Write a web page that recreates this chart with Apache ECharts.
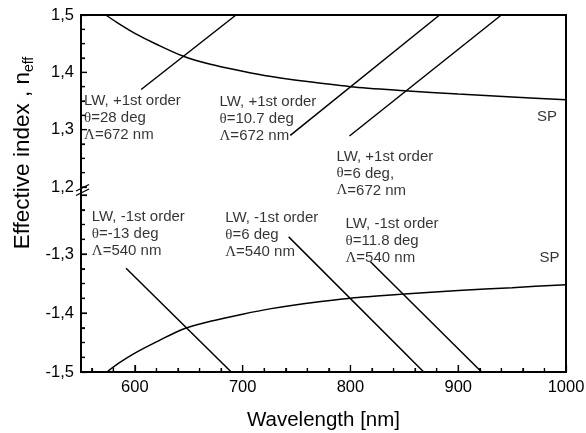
<!DOCTYPE html>
<html><head><meta charset="utf-8">
<script src="https://cdn.jsdelivr.net/npm/echarts@6/dist/echarts.min.js"></script>
<style>html,body{margin:0;padding:0;background:#fff}#c{width:586px;height:433px}</style>
</head><body><div id="c"></div>
<script>
// ---- data ----
const wavelengthSPTop = [573, 585, 600, 620, 645, 670, 700, 725, 750, 800, 850, 900, 950, 1000];
const neffSPTop = [1.500, 1.485, 1.468, 1.449, 1.428, 1.414, 1.402, 1.393, 1.386, 1.375, 1.368, 1.362, 1.357, 1.352];
const wavelengthSPBottom = [574, 585, 600, 620, 645, 670, 700, 725, 750, 800, 850, 900, 950, 1000];
const neffSPBottom = [-1.500, -1.485, -1.468, -1.449, -1.427, -1.414, -1.402, -1.393, -1.386, -1.375, -1.368, -1.362, -1.357, -1.352];

// LW lines (start point, end point): [wavelength, neff]
const lwPlus28 = [[605.8, 1.370], [693.8, 1.500]];
const lwPlus10_7 = [[744.2, 1.290], [882.7, 1.500]];
const lwPlus6 = [[799.1, 1.289], [940.0, 1.500]];
const lwMinus13 = [[591.8, -1.324], [689.4, -1.500]];
const lwMinus6 = [[742.7, -1.271], [868.0, -1.500]];
const lwMinus11_8 = [[818.6, -1.313], [921.7, -1.500]];

// ticks and tick labels
const xRange = [550, 1000];
const xMajorTicks = [600, 700, 800, 900, 1000];
const xMinorTicks = [560, 580, 620, 640, 660, 680, 720, 740, 760, 780, 820, 840, 860, 880, 920, 940, 960, 980];
const yTopPanel = [1.2, 1.5];
const yTopMajorTicks = [1.2, 1.3, 1.4, 1.5];
const yTopMinorTicks = [1.225, 1.25, 1.275, 1.325, 1.35, 1.375, 1.425, 1.45, 1.475];
const yBottomPanel = [-1.5, -1.2];
const yBottomMajorTicks = [-1.5, -1.4, -1.3, -1.2];
const yBottomLabelTicks = [-1.5, -1.4, -1.3];
const yBottomMinorTicks = [-1.475, -1.45, -1.425, -1.375, -1.35, -1.325, -1.275, -1.25, -1.225];

// annotation texts
const annTop = [
  'LW, +1st order\n{g|θ}=28 deg\n{g|Λ}=672 nm',
  'LW, +1st order\n{g|θ}=10.7 deg\n{g|Λ}=672 nm',
  'LW, +1st order\n{g|θ}=6 deg,\n{g|Λ}=672 nm',
  'SP'
];
const annBottom = [
  'LW, -1st order\n{g|θ}=-13 deg\n{g|Λ}=540 nm',
  'LW, -1st order\n{g|θ}=6 deg\n{g|Λ}=540 nm',
  'LW, -1st order\n{g|θ}=11.8 deg\n{g|Λ}=540 nm',
  'SP'
];

// ---- chart ----
const FONT = "'Liberation Sans', Arial, sans-serif";
const SERIF = "'Liberation Serif', 'Times New Roman', serif";
const annAnchorsTop = [[552.8, 1.3209], [678.5, 1.3188], [787, 1.2237], [973, 1.3228]];
const annAnchorsBottom = [[560, -1.2666], [683.8, -1.2683], [795.4, -1.278], [975.5, -1.3063]];

const W = 586, H = 433;
const L = 81, R = 20, TOP = 15, BOT = 61;
const GRID_H = H - TOP - BOT;            // 357 px
const TOP_PANEL_H = 172, BOTTOM_PANEL_H = 177;   // broken axis: two panels in one frame
// axis extents so that each panel occupies its own part of the single grid
const yTopMin = yTopPanel[1] - (yTopPanel[1] - yTopPanel[0]) * GRID_H / TOP_PANEL_H;
const yBottomMax = yBottomPanel[0] + (yBottomPanel[1] - yBottomPanel[0]) * GRID_H / BOTTOM_PANEL_H;

const chart = echarts.init(document.getElementById('c'));
const tickStyle = {color: '#000', width: 1.2};
const fmtY = v => v.toFixed(1).replace('.', ',');
const fmtX = v => String(Math.round(v));

function lineSeries(data, yi, smooth) {
  return {type: 'line', xAxisIndex: 0, yAxisIndex: yi, data: data, symbol: 'none', smooth: smooth || false,
    silent: true, lineStyle: {color: '#000', width: 1.5}, z: 3};
}
const ANN_FS = 15;
const richStyle = {g: {fontFamily: SERIF, fontSize: ANN_FS, lineHeight: 17, color: '#000'}};
function annSeries(texts, anchors, yi) {
  return {type: 'scatter', xAxisIndex: 0, yAxisIndex: yi, symbolSize: 0, silent: true, z: 5,
    data: texts.map((t, i) => ({value: anchors[i], label: {formatter: t}})),
    label: {show: true, position: 'right', distance: 0, fontFamily: FONT, fontSize: ANN_FS, lineHeight: 17,
      color: '#000', align: 'left', verticalAlign: 'middle', rich: richStyle}};
}
// inside ticks drawn through the axis scales (backup of the axis ticks)
function xTickSeries(values, len) {
  return {type: 'custom', xAxisIndex: 0, yAxisIndex: 1, silent: true, clip: false, z: 40,
    data: values.map(v => [v, yBottomPanel[0]]),
    renderItem: (params, api) => {
      const p = api.coord([api.value(0), api.value(1)]);
      return {type: 'line', shape: {x1: p[0], y1: p[1], x2: p[0], y2: p[1] - len},
        style: {stroke: '#000', lineWidth: 1.2}};
    }};
}
function yTickSeries(values, yi, len) {
  return {type: 'custom', xAxisIndex: 0, yAxisIndex: yi, silent: true, clip: false, z: 40,
    data: values.map(v => [xRange[0], v]),
    renderItem: (params, api) => {
      const p = api.coord([api.value(0), api.value(1)]);
      return {type: 'line', shape: {x1: p[0], y1: p[1], x2: p[0] + len, y2: p[1]},
        style: {stroke: '#000', lineWidth: 1.2}};
    }};
}
function yAxisCfg(min, max, labelValues, tickValues, tickLen, showLabel) {
  return {type: 'value', gridIndex: 0, position: 'left', offset: 0, min: min, max: max,
    splitLine: {show: false}, axisLine: {show: false},
    axisTick: {show: true, inside: true, length: tickLen, lineStyle: tickStyle, customValues: tickValues},
    axisLabel: {show: showLabel, customValues: labelValues, formatter: fmtY, fontFamily: FONT, fontSize: 16.5, color: '#000', margin: 7}};
}

const option = {
  animation: false,
  grid: [{left: L, right: R, top: TOP, bottom: BOT, outerBoundsMode: 'none', containLabel: false}],
  xAxis: [
    {type: 'value', gridIndex: 0, position: 'bottom', min: xRange[0], max: xRange[1], splitLine: {show: false},
      axisLine: {show: false},
      axisTick: {show: true, inside: true, length: 7, lineStyle: tickStyle, customValues: xMajorTicks},
      axisLabel: {show: true, customValues: xMajorTicks, formatter: fmtX, fontFamily: FONT, fontSize: 16.5, color: '#000', margin: 7},
      name: 'Wavelength [nm]', nameLocation: 'middle', nameGap: 38,
      nameTextStyle: {fontFamily: FONT, fontSize: 20.5, color: '#000'}},
    {type: 'value', gridIndex: 0, position: 'bottom', offset: 0, min: xRange[0], max: xRange[1], splitLine: {show: false},
      axisLine: {show: false},
      axisTick: {show: true, inside: true, length: 4, lineStyle: tickStyle, customValues: xMinorTicks},
      axisLabel: {show: false}}
  ],
  yAxis: [
    yAxisCfg(yTopMin, yTopPanel[1], yTopMajorTicks, yTopMajorTicks, 6, true),
    yAxisCfg(yBottomPanel[0], yBottomMax, yBottomLabelTicks, yBottomMajorTicks, 6, true),
    yAxisCfg(yTopMin, yTopPanel[1], [], yTopMinorTicks, 4, false),
    yAxisCfg(yBottomPanel[0], yBottomMax, [], yBottomMinorTicks, 4, false)
  ],
  series: [
    lineSeries(wavelengthSPTop.map((w, i) => [w, neffSPTop[i]]), 0, 0.3),
    lineSeries(lwPlus28, 0),
    lineSeries(lwPlus10_7, 0),
    lineSeries(lwPlus6, 0),
    lineSeries(wavelengthSPBottom.map((w, i) => [w, neffSPBottom[i]]), 1, 0.3),
    lineSeries(lwMinus13, 1),
    lineSeries(lwMinus6, 1),
    lineSeries(lwMinus11_8, 1),
    annSeries(annTop, annAnchorsTop, 0),
    annSeries(annBottom, annAnchorsBottom, 1),
    xTickSeries(xMajorTicks, 7),
    xTickSeries(xMinorTicks, 4),
    yTickSeries(yTopMajorTicks, 0, 6),
    yTickSeries(yTopMinorTicks, 0, 4),
    yTickSeries(yBottomMajorTicks, 1, 6),
    yTickSeries(yBottomMinorTicks, 1, 4)
  ],
  graphic: [
    {type: 'rect', shape: {x: L, y: TOP, width: W - L - R, height: GRID_H},
      style: {fill: 'none', stroke: '#000', lineWidth: 2}, z: 50, silent: true},
    {type: 'line', shape: {x1: 76, y1: 191, x2: 89, y2: 184.5}, style: {stroke: '#000', lineWidth: 1.3}, z: 60},
    {type: 'line', shape: {x1: 76, y1: 195.5, x2: 89, y2: 189}, style: {stroke: '#000', lineWidth: 1.3}, z: 60},
    {type: 'text', x: 23, y: 153, rotation: Math.PI / 2, z: 60,
      style: {text: 'Effective index , n{s|eff}', fontFamily: FONT, fontSize: 22.5, lineHeight: 26, fill: '#000',
        align: 'center', verticalAlign: 'middle',
        rich: {s: {fontFamily: FONT, fontSize: 14, lineHeight: 14, verticalAlign: 'bottom', fill: '#000'}}}}
  ]
};
chart.setOption(option);
</script>
</body></html>
